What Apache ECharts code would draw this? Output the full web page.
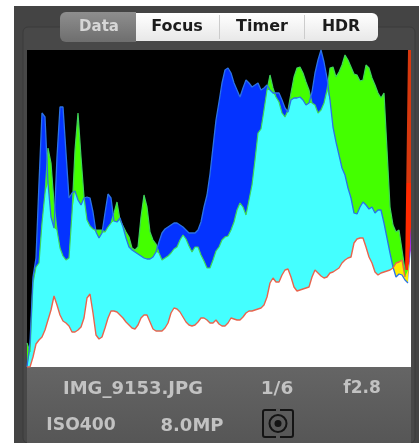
<!DOCTYPE html>
<html><head><meta charset="utf-8">
<style>html,body{margin:0;padding:0;background:#fff}#c{width:419px;height:443px}</style>
<script src="https://cdn.jsdelivr.net/npm/echarts@6/dist/echarts.min.js"></script>
</head><body><div id="c"></div>
<script>
const tabLabels = ['Data','Focus','Timer','HDR'];
const infoLabels = ['IMG_9153.JPG','1/6','f2.8','ISO400','8.0MP'];
const blue = [0,24,90,109,184,254,250,184,150,139,210,260,260,214,169,174,176,167,162,169,170,169,155,135,129,134,154,173,169,146,145,149,140,129,120,117,115,113,111,109,108,108,110,115,125,134,138,140,142,144,144,142,140,137,134,134,134,137,145,160,172,193,220,247,265,284,297,299,294,284,277,270,279,287,284,280,282,284,277,279,282,277,274,274,274,267,259,255,267,269,269,270,267,262,264,275,294,307,317,305,289,267,240,225,212,199,192,179,169,154,153,160,165,162,158,160,154,157,157,144,129,114,100,90,93,92,87,84,140];
const green = [24,15,84,100,104,144,174,219,204,164,137,119,111,107,109,154,217,254,210,170,147,141,138,137,137,137,135,140,144,154,165,147,141,135,130,119,117,120,150,172,160,135,127,123,114,107,109,111,114,118,120,127,132,128,121,115,120,120,112,106,99,99,107,116,120,127,130,131,137,145,157,164,160,152,167,182,207,234,238,257,277,292,279,270,265,254,250,257,274,290,299,300,294,285,277,264,262,254,257,264,277,299,300,290,295,302,312,307,300,293,292,286,287,302,299,289,282,274,269,274,217,160,142,135,137,117,97,97,117];
const red = [0,0,10,23,27,30,37,47,57,71,62,52,46,44,41,35,35,37,40,49,69,73,54,32,28,30,39,49,56,56,55,52,49,45,42,39,38,42,49,52,52,45,38,36,36,36,39,44,54,59,58,55,50,45,42,41,42,45,49,49,47,44,44,47,43,41,41,44,49,48,47,47,50,54,56,56,57,58,59,62,70,84,89,85,85,92,97,98,90,80,76,77,78,79,80,90,97,94,91,89,90,94,95,97,99,104,107,109,110,124,128,129,129,120,110,104,95,92,94,95,96,97,99,104,105,107,90,317,317];
const levels = blue.map((_, i) => i);
const overlap = (...chs) => levels.map(i => Math.min(...chs.map(c => c[i])));

const area = (name, data, color) => ({name, type:'line', data, showSymbol:false, silent:true, animation:false,
  lineStyle:{width:0}, itemStyle:{color:'#888'}, areaStyle:{color, opacity:1}});
const edge = (name, data, color, width) => ({name, type:'line', data, showSymbol:false, silent:true, animation:false,
  lineStyle:{color, width}, itemStyle:{color}});
const T = (text, x, y, size, fill, weight) => ({type:'text', z:20, style:{text, x, y, fontFamily:'"DejaVu Sans",sans-serif',
  fontSize:size, fontWeight:weight||'bold', fill, align:'center', verticalAlign:'middle'}});
const grad = (a,b) => new echarts.graphic.LinearGradient(0,0,0,1,[{offset:0,color:a},{offset:1,color:b}]);
const redSpike = new echarts.graphic.LinearGradient(0,0,0,1,[{offset:0,color:'#d8380e'},{offset:0.42,color:'#d8380e'},{offset:0.42,color:'#ff2a00'},{offset:1,color:'#ff2a00'}]);

const graphics = [
  {type:'rect', z:-5, shape:{x:14,y:6,width:405,height:437}, style:{fill:'#444444'}},
  {type:'rect', z:-4, shape:{x:23,y:27,width:392,height:416,r:5}, style:{fill:'#484848',stroke:'#3b3b3b',lineWidth:1}},
  {type:'rect', z:-3, shape:{x:27,y:367,width:384,height:76}, style:{fill:grad('#656565','#565656')}},
  {type:'rect', z:10, shape:{x:136,y:13,width:242,height:28,r:[0,6,6,0]}, style:{fill:grad('#ffffff','#e8e8e8')}},
  {type:'rect', z:11, shape:{x:60,y:12,width:76,height:30,r:[6,0,0,6]}, style:{fill:grad('#8e8e8e','#6e6e6e')}},
  {type:'rect', z:11, shape:{x:219,y:15,width:1,height:24}, style:{fill:'#cccccc'}},
  {type:'rect', z:11, shape:{x:304,y:15,width:1,height:24}, style:{fill:'#cccccc'}},
  T(tabLabels[0],99,27,15,'#d6d6d6'),
  T(tabLabels[1],177,27,16,'#1c1c1c'),
  T(tabLabels[2],262,27,16,'#1c1c1c'),
  T(tabLabels[3],341,27,15.7,'#1c1c1c'),
  T(infoLabels[0],133,389,18,'#c2c2c2'),
  T(infoLabels[1],277,389,18.5,'#c2c2c2'),
  T(infoLabels[2],362,389,17,'#c2c2c2'),
  T(infoLabels[3],81,426,17.2,'#c2c2c2'),
  T(infoLabels[4],192,426,18,'#c2c2c2'),
  {type:'rect', z:20, shape:{x:263,y:410,width:30,height:27,r:2}, style:{fill:'none',stroke:'#141414',lineWidth:2}},
  {type:'rect', z:22, shape:{x:276,y:408,width:4,height:4}, style:{fill:'#5a5a5a'}},
  {type:'rect', z:22, shape:{x:276,y:435,width:4,height:4}, style:{fill:'#585858'}},
  {type:'circle', z:23, shape:{cx:278,cy:423.5,r:8.5}, style:{fill:'none',stroke:'#141414',lineWidth:2}},
  {type:'circle', z:23, shape:{cx:278,cy:423.5,r:3.5}, style:{fill:'#141414'}}
];

const chart = echarts.init(document.getElementById('c'), null, {renderer:'canvas'});
chart.setOption({
  animation:false,
  backgroundColor:'#ffffff',
  grid:{left:27, top:50, width:384, height:317, backgroundColor:'#000', show:true, borderWidth:0},
  xAxis:{type:'category', data:levels, boundaryGap:false, show:false},
  yAxis:{type:'value', min:0, max:317, show:false},
  graphic:graphics,
  series:[
    area('Red', red, redSpike),
    area('Blue', blue, '#0433ff'),
    area('Green', green, '#44ff00'),
    area('Red+Green', overlap(red,green), '#ffee00'),
    area('Red+Blue', overlap(red,blue), '#b030e0'),
    area('Blue+Green', overlap(blue,green), '#44ffff'),
    area('All', overlap(red,green,blue), '#ffffff'),
    edge('Green edge', green.slice(0,127), '#3fd45a', 1.2),
    edge('Blue edge', blue.slice(0,128), '#2b72e6', 1.3),
    edge('Red edge', red.slice(0,127), '#e8644e', 1.4)
  ]
});
</script></body></html>
